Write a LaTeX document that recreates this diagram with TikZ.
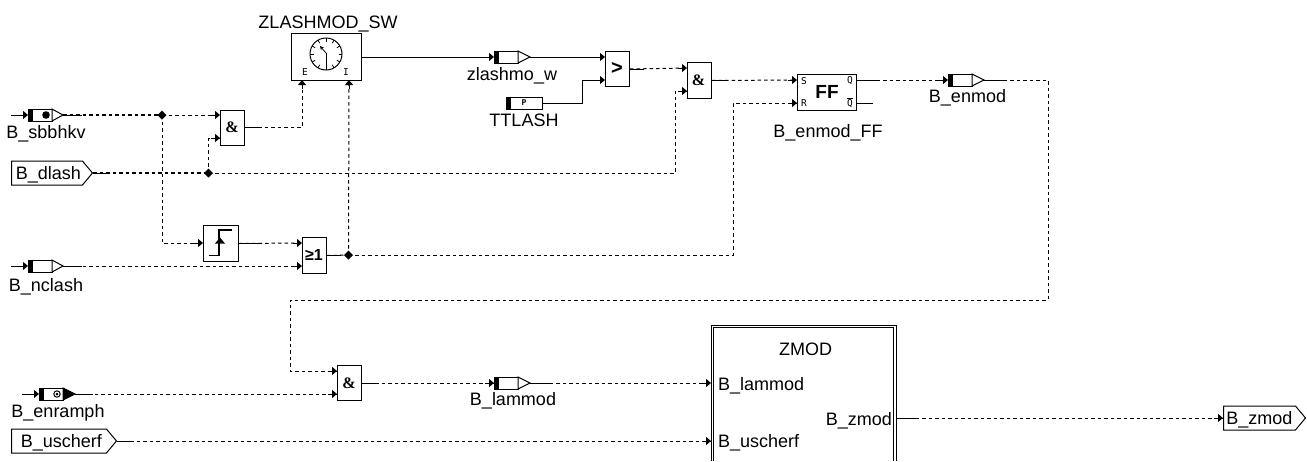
\documentclass[tikz,border=0pt]{standalone}
\usepackage{fontspec}
\setmainfont{Liberation Sans}
\newfontfamily\monofam{DejaVu Sans Mono}
\newfontfamily\serifam{Liberation Serif}
\usetikzlibrary{arrows.meta,shapes.symbols,calc}
\tikzset{
  x=1pt,y=-1pt,
  lbl/.style={font=\fontsize{18}{18}\selectfont,inner sep=0pt,text height=13pt,text depth=0pt},
  gate/.style={draw,line width=1pt,fill=white,anchor=north west,inner sep=0pt},
  gatetxt/.style={font=\fontsize{#1}{#1}\selectfont\bfseries,inner sep=0pt},
  amp/.style={font=\serifam\fontsize{16}{16}\selectfont\bfseries,inner sep=0pt},
  tag/.style={draw,line width=1pt,fill=white,signal,signal to=east,signal pointer angle=100,inner sep=0pt,anchor=west,
    minimum height=24pt,font=\fontsize{18}{18}\selectfont,text height=13pt,text depth=0pt},
  solidw/.style={line width=1pt},
  dsh/.style={line width=1pt,dash pattern=on 3.5pt off 3pt},
  thickdsh/.style={line width=1.6pt,dash pattern=on 3.5pt off 3pt},
  tip/.style={line width=1pt,-{Triangle[length=5pt,width=8pt]}},
  small/.style={font=\monofam\fontsize{9.5}{9.5}\selectfont,inner sep=0pt},
}
% name, x, y, width, tip fill, extra
\newcommand{\sigmark}[6]{%
  \node[minimum width=#4pt,minimum height=12pt,inner sep=0pt,anchor=west] (#1) at (#2,#3) {};
  \draw[line width=1pt,fill=white] (#2,#3-6) rectangle (#2+24,#3+6);
  \draw[line width=1pt,fill=#5] (#2+24,#3-6) -- (#2+#4,#3) -- (#2+24,#3+6) -- cycle;
  \fill (#2,#3-6) rectangle (#2+5,#3+6);
  #6
}
\newcommand{\inarrow}[1]{\draw[tip] ($(#1)+(-9,0)$) -- (#1);}
\begin{document}
\begin{tikzpicture}
\useasboundingbox (0,0) rectangle (1307,461);

% ---- gates
\node[gate,minimum width=24pt,minimum height=35pt] (and1) at (220,109.5) {};
\node[amp] (and1t) at (232,127) {\&};
\node[gate,minimum width=70pt,minimum height=47pt] (sw) at (291,33) {};
\node[lbl,anchor=center] (swl) at (328,21.5) {ZLASHMOD\_SW};
\node[gate,minimum width=24pt,minimum height=35pt] (cmp) at (605,51) {};
\node[gatetxt=20] (cmpt) at (617,68) {>};
\node[gate,minimum width=24pt,minimum height=36pt] (and2) at (687,62) {};
\node[amp] (and2t) at (698.5,80) {\&};
\node[gate,minimum width=59pt,minimum height=36pt] (ff) at (797,74) {};
\node[gatetxt=19] (fft) at (827,92) {FF};
\node[small,anchor=west] (ffs) at (801,81) {S};
\node[small,anchor=west] (ffr) at (801,103) {R};
\node[small,anchor=east] (ffq) at (853,81) {Q};
\node[small,anchor=east] (ffqb) at (853,103) {\rlap{\rule[8pt]{5.5pt}{0.8pt}}Q};
\node[lbl] (ffl) at (828,131) {B\_enmod\_FF};
\node[gate,minimum width=35pt,minimum height=36pt] (edge) at (203,225) {};
\node[gate,minimum width=24pt,minimum height=36pt] (or) at (302,237) {};
\node[gatetxt=16] (ort) at (314,255) {≥1};
\node[gate,minimum width=24pt,minimum height=35pt] (and3) at (337,365) {};
\node[amp] (and3t) at (349,383) {\&};

% clock
\draw[line width=1pt] (326,54) circle (16);
\foreach \a in {0,30,...,330} \draw[line width=.8pt] ($(326,54)+(\a:12.5)$) -- ($(326,54)+(\a:16)$);
\draw[line width=1pt] (326,53) -- (326,70);
\draw[line width=.8pt,-{Stealth[length=4pt,width=4pt]}] (326,53) -- (320,46);
\node[small] (swe) at (305,72) {E};
\node[small] (swi) at (346,72) {I};

% edge icon
\draw[line width=1.3pt] (209,255.5) -- (219,255.5) -- (219,230) -- (232,230);
\fill (220,237.5) -- (225,243.5) -- (215,243.5) -- cycle;

% ---- ZMOD
\draw[line width=1pt] (711,461) -- (711,325) -- (896,325) -- (896,461);
\draw[line width=1pt] (713.5,461) -- (713.5,327.5) -- (893.5,327.5) -- (893.5,461);
\node[lbl] (zmodl) at (805.5,348.5) {ZMOD};
\node[lbl,anchor=west] (zin1) at (718,383.5) {B\_lammod};
\node[lbl,anchor=west] (zin2) at (718,441) {B\_uscherf};
\node[lbl,anchor=east] (zout) at (892,418.5) {B\_zmod};
\coordinate (zi1) at (711,383);
\coordinate (zi2) at (711,441);
\coordinate (zo) at (896,418);

% ---- signal markers
\sigmark{sbb}{28}{115}{35}{white}{\fill (46,115) circle (3.8);}
\node[lbl] (sbbl) at (46,131.5) {B\_sbbhkv};
\sigmark{ncl}{28}{266}{35}{white}{}
\node[lbl] (ncll) at (46,284.5) {B\_nclash};
\sigmark{enr}{39}{394}{36}{black}{\draw[line width=1pt] (57,394) circle (3.2); \fill (57,394) circle (1.5);}
\node[lbl] (enrl) at (58,411) {B\_enramph};
\sigmark{zla}{494}{57}{36}{white}{}
\node[lbl] (zlal) at (512,73.5) {zlashmo\_w};
\sigmark{enm}{948}{80}{36}{white}{}
\node[lbl] (enml) at (967.5,96) {B\_enmod};
\sigmark{lam}{494}{383}{36}{white}{}
\node[lbl] (laml) at (513,399) {B\_lammod};
% TTLASH parameter
\node[draw,line width=1pt,minimum width=36pt,minimum height=12pt,inner sep=0pt,anchor=west] (tt) at (506,103) {};
\fill (506,97) rectangle (511,109);
\node[font=\monofam\fontsize{8}{8}\selectfont\bfseries,inner sep=0pt] (ttp) at (524,103) {P};
\node[lbl] (ttl) at (524,120) {TTLASH};

% ---- tags
\node[tag,minimum width=81pt] (dl) at (11,173) {\hspace{3pt}B\_dlash};
\node[tag,minimum width=105pt] (us) at (11,441) {\hspace{5pt}B\_uscherf};
\node[tag,minimum width=82pt] (zm) at (1223,418) {B\_zmod};

% ---- junctions and free ends
\coordinate (j1) at (162,115);
\coordinate (j2) at (208.5,173);
\coordinate (j3) at (348.5,255);
\coordinate (sbbin) at (11,115);
\coordinate (nclin) at (11,266);
\coordinate (enrin) at (22,394);
\coordinate (qb) at (873,103);
\coordinate (a1a) at (220,115);
\coordinate (a1b) at (220,138);
\coordinate (swE) at (302,80);
\coordinate (swI) at (349,80);
\coordinate (c1) at (605,57);
\coordinate (c2) at (605,80);
\coordinate (a2a) at (687,68);
\coordinate (a2b) at (687,91);
\coordinate (fs) at (797,80);
\coordinate (fr) at (797,103);
\coordinate (o1) at (302,243);
\coordinate (o2) at (302,266);
\coordinate (ed) at (203,243);
\coordinate (a3a) at (337,371);
\coordinate (a3b) at (337,394);

% ---- input stubs
\draw[tip] (sbbin) -- (sbb.west);
\draw[tip] (nclin) -- (ncl.west);
\draw[tip] (enrin) -- (enr.west);

% ---- solid wires
\draw[solidw] (sbb.east) -- ++(19,0);
\draw[solidw] (dl.east) -- ++(15,0);
\draw[solidw] (ncl.east) -- ++(19,0);
\draw[solidw] (enr.east) -- ++(18,0);
\draw[solidw] (us.east) -- ++(14,0);
\draw[tip] (sw.east |- c1) -- (zla.west);
\draw[tip] (zla.east) -- (c1);
\draw[tip] (tt.east) -- (582,103) -- (582,80) -- (c2);
\draw[solidw] (ff.east |- qb) -- (qb);
\draw[solidw] (and1.east |- 0,127) -- ++(14,0);
\draw[solidw] (cmp.east) -- ++(14,0);
\draw[solidw] (and2.east) -- ++(14,0);
\draw[solidw] (ff.east |- fs) -- ++(20,0);
\draw[solidw] (enm.east) -- ++(20,0);
\draw[solidw] (edge.east) -- ++(20,0);
\draw[solidw] (or.east) -- ++(14,0);
\draw[solidw] (and3.east) -- ++(14,0);
\draw[solidw] (lam.east) -- ++(20,0);
\draw[solidw] (zo) -- ++(20,0);

% ---- dashed wires
\draw[thickdsh] (sbb.east) -- (j1);
\draw[dsh] (j1) -- (a1a);
\draw[dsh] (j1) -- (162,243) -- (ed);
\draw[thickdsh] (dl.east) -- (j2);
\draw[dsh] (j2) -- (208.5,138) -- (a1b);
\draw[dsh] (j2) -- (675,173) -- (675,91) -- (a2b);
\draw[dsh] (and1.east |- 0,127) -- (302,127) -- (swE);
\draw[dsh] (ncl.east) -- (o2);
\draw[dsh] (edge.east) -- (o1);
\draw[dsh] (or.east) -- (j3);
\draw[dsh] (j3) -- (swI);
\draw[dsh] (j3) -- (733,255) -- (733,103) -- (fr);
\draw[dsh] (cmp.east) -- (a2a);
\draw[dsh] (and2.east) -- (fs);
\draw[dsh] (ff.east |- fs) -- (enm.west);
\draw[dsh] (enm.east) -- (1048,80) -- (1048,300) -- (290,300) -- (290,371) -- (a3a);
\draw[dsh] (enr.east) -- (a3b);
\draw[dsh] (and3.east) -- (lam.west);
\draw[dsh] (lam.east) -- (zi1);
\draw[dsh] (us.east) -- (zi2);
\draw[dsh] (zo) -- (zm.west);

% ---- arrow tips
\inarrow{a1a}\inarrow{a1b}\inarrow{ed}\inarrow{o1}\inarrow{o2}
\inarrow{a2a}\inarrow{a2b}\inarrow{fs}\inarrow{fr}\inarrow{a3a}\inarrow{a3b}
\inarrow{zi1}\inarrow{zi2}\inarrow{enm.west}\inarrow{lam.west}\inarrow{zm.west}
\draw[tip] (302,89) -- (swE);
\draw[tip] (349,89) -- (swI);

% ---- junction dots
\foreach \j in {j1,j2,j3}
  \fill (\j) ++(-4.5,0) -- ++(4.5,-4.5) -- ++(4.5,4.5) -- ++(-4.5,4.5) -- cycle;
\end{tikzpicture}
\end{document}
